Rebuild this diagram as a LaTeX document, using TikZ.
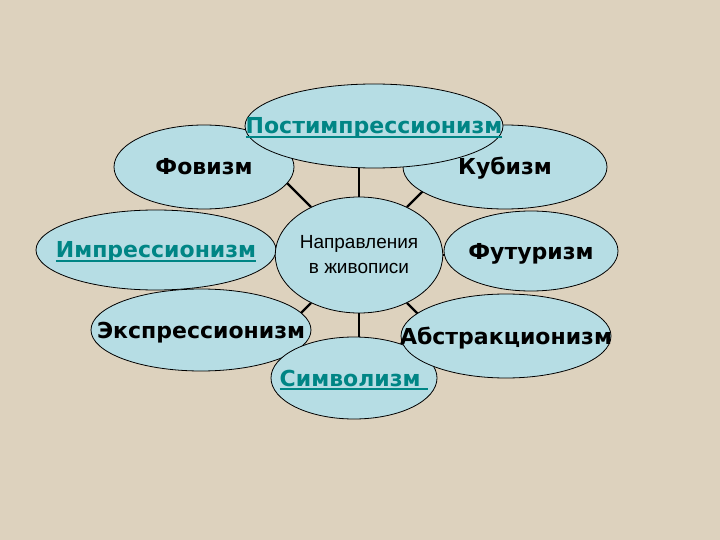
\documentclass[tikz,border=0pt]{standalone}
\usepackage{fontspec}
\setmainfont{DejaVu Sans}
\newfontfamily\hubfont{Liberation Sans}
\usetikzlibrary{shapes.geometric}
\definecolor{canvas}{RGB}{221,210,190}
\definecolor{ovalblue}{RGB}{182,221,228}
\definecolor{linkteal}{RGB}{0,133,133}
\pgfdeclarelayer{back}
\pgfsetlayers{back,main}
\newcommand{\ovaltext}[1]{\makebox[0pt]{#1}}
\newcommand{\uline}[1]{\setbox0\hbox{#1}\rlap{\rule[-4pt]{\wd0}{1.8pt}}\box0}

\begin{document}
\begin{tikzpicture}[x=1pt,y=-1pt]
\tikzstyle{oval}=[ellipse, draw, line width=0.8pt, fill=ovalblue, inner sep=0pt, text height=16pt, text depth=0pt, font=\bfseries\fontsize{22}{26}\selectfont]
\tikzstyle{link}=[text=linkteal]
\tikzstyle{spoke}=[line width=2.4pt]

\useasboundingbox (0,0) rectangle (720,540);

% the ovals, back ones first
\node[oval, minimum width=180pt, minimum height=84pt] (fauv) at (204,167) {\ovaltext{Фовизм}};
\node[oval, minimum width=204pt, minimum height=84pt] (cub) at (505,167) {\ovaltext{Кубизм}};
\node[oval, link, minimum width=258pt, minimum height=84pt] (postimp) at (374,126) {\ovaltext{\uline{Постимпрессионизм}}};
\node[oval, link, minimum width=240pt, minimum height=80pt] (imp) at (156,250) {\ovaltext{\uline{Импрессионизм}}};
\node[oval, minimum width=174pt, minimum height=80pt] (fut) at (531,251) {\ovaltext{Футуризм}};
\node[oval, minimum width=220pt, minimum height=82pt] (expr) at (201,330) {\ovaltext{Экспрессионизм}};
\node[oval, link, minimum width=166pt, minimum height=82pt] (symb) at (354,378) {\ovaltext{\uline{Символизм\ }}};
\node[oval, minimum width=210pt, minimum height=84pt] (abstr) at (506,336) {\ovaltext{Абстракционизм}};

% centre
\node[ellipse, draw, line width=0.8pt, fill=ovalblue, minimum width=132pt, minimum height=116pt, inner sep=0pt, align=center, font=\hubfont\fontsize{19}{25}\selectfont] (hub) at (359,255) {Направления\\в живописи};

\begin{pgfonlayer}{back}
\fill[canvas] (0,0) rectangle (720,540);
\foreach \a in {0,45,...,315} {
\path (hub.center) ++(\a:115) coordinate (end\a);
\draw[spoke] (hub) -- (end\a);
}
\end{pgfonlayer}

\end{tikzpicture}
\end{document}
